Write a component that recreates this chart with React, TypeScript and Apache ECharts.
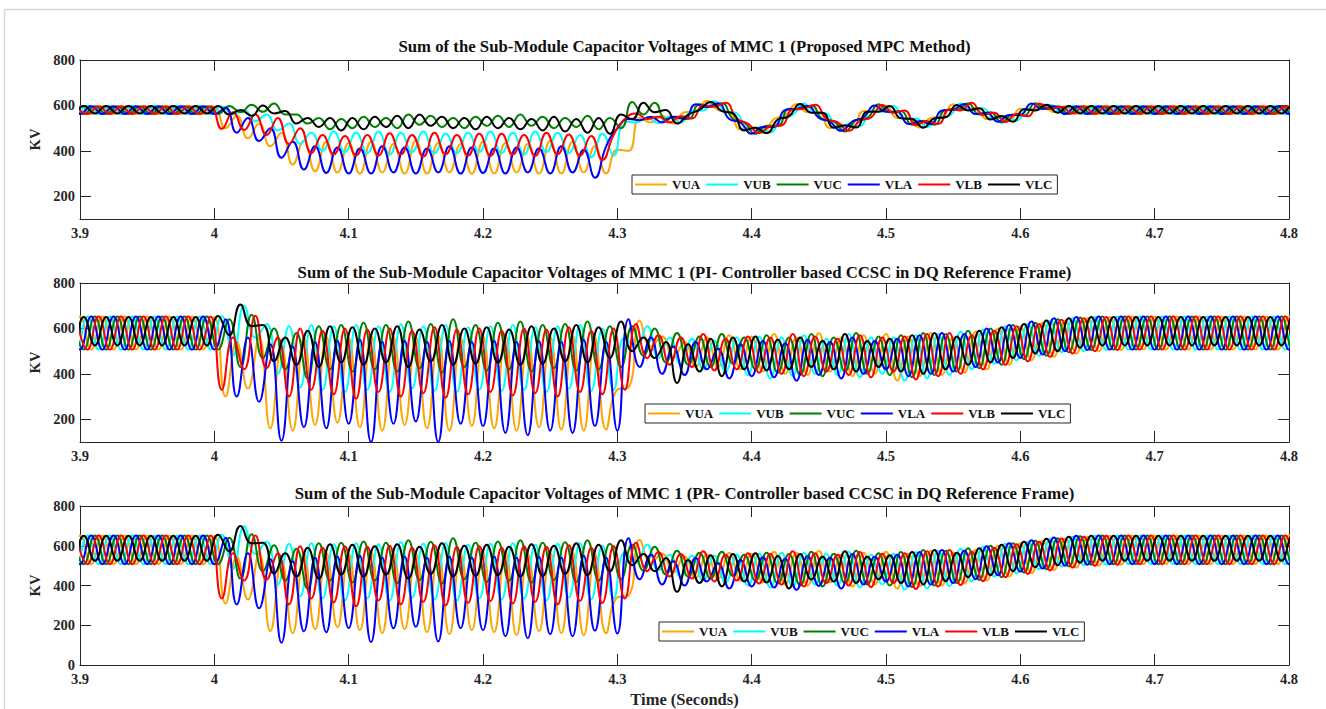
import React, { useEffect, useRef } from "react";
import * as echarts from "echarts";

// Each series is a list of rows of successive extremes (peak, trough, ...),
// one entry per half cycle of the 60 Hz ripple.
// Row 0: lead-in before 3.9 s; rows 1-9: 3.9-4.0, 4.0-4.1, ..., 4.7-4.8 s;
// row 10: run-out past 4.8 s.

// ---- MMC 1, proposed MPC method ----
const p1VUA = [
  [596, 562],
  [596, 562, 596, 562, 596, 562,
   596, 562, 596, 562, 596, 562],
  [592, 500, 555, 455, 520, 420, 480, 340, 445, 310, 440, 305],
  [435, 300, 440, 305, 430, 300, 445, 300, 435, 305, 430, 300],
  [440, 300, 435, 305, 430, 300, 445, 300, 440, 305, 420, 300],
  [405, 400, 545, 525, 555, 520, 570, 575, 620, 580, 570, 495],
  [505, 480, 540, 555, 605, 570, 570, 500, 515, 505, 575, 575],
  [600, 545, 545, 503, 545, 550, 605, 580, 590, 540, 555, 530],
  [585, 580, 605, 570, 596, 562,
   596, 562, 596, 562, 596, 562],
  [596, 562, 596, 562, 596, 562,
   596, 562, 596, 562, 596, 562],
  [596, 562],
];
const p1VUB = [
  [597, 561],
  [597, 561, 597, 561, 597, 561,
   597, 561, 597, 561, 597, 561],
  [595, 560, 580, 530, 560, 490, 520, 430, 480, 400, 485, 395],
  [480, 390, 485, 385, 480, 395, 485, 390, 475, 390, 480, 395],
  [485, 390, 480, 385, 485, 395, 480, 390, 470, 372, 475, 380],
  [530, 525, 548, 522, 552, 524, 575, 578, 618, 575, 565, 492],
  [503, 482, 545, 558, 608, 568, 565, 498, 518, 508, 578, 572],
  [598, 542, 542, 505, 548, 555, 608, 578, 588, 538, 552, 533],
  [588, 582, 603, 568, 597, 561,
   597, 561, 597, 561, 597, 561],
  [597, 561, 597, 561, 597, 561,
   597, 561, 597, 561, 597, 561],
  [597, 561],
];
const p1VUC = [
  [596, 562],
  [596, 562, 596, 562, 596, 562,
   596, 562, 596, 562, 596, 562],
  [598, 570, 603, 572, 608, 560, 560, 520, 545, 495, 540, 500],
  [550, 505, 545, 500, 560, 515, 555, 505, 545, 500, 550, 510],
  [555, 505, 560, 510, 550, 500, 545, 505, 555, 495, 545, 500],
  [615, 560, 612, 540, 550, 540, 605, 593, 610, 540, 525, 475],
  [510, 510, 585, 583, 600, 540, 530, 485, 535, 545, 605, 570],
  [575, 515, 533, 515, 580, 580, 610, 560, 570, 525, 560, 555],
  [610, 583, 596, 562, 596, 562,
   596, 562, 596, 562, 596, 562],
  [596, 562, 596, 562, 596, 562,
   596, 562, 596, 562, 596, 562],
  [596, 562],
];
const p1VLA = [
  [596, 562],
  [596, 562, 596, 562, 596, 562,
   596, 562, 596, 562, 596, 562],
  [590, 480, 545, 443, 500, 370, 440, 318, 420, 303, 415, 300],
  [410, 300, 420, 305, 415, 300, 410, 305, 420, 300, 415, 303],
  [410, 300, 415, 305, 410, 300, 420, 305, 405, 282, 420, 500],
  [540, 535, 550, 525, 550, 540, 605, 593, 610, 540, 525, 475],
  [505, 505, 580, 585, 598, 545, 528, 488, 530, 548, 600, 572],
  [572, 518, 530, 518, 578, 582, 606, 562, 568, 528, 558, 558],
  [608, 584, 596, 562, 596, 562,
   596, 562, 596, 562, 596, 562],
  [596, 562, 596, 562, 596, 562,
   596, 562, 596, 562, 596, 562],
  [596, 562],
];
const p1VLB = [
  [596, 562],
  [596, 562, 596, 562, 596, 562,
   596, 562, 596, 562, 596, 497],
  [570, 492, 560, 470, 545, 430, 500, 390, 470, 385, 465, 380],
  [470, 380, 478, 385, 470, 375, 480, 385, 470, 380, 475, 378],
  [475, 385, 470, 378, 480, 385, 472, 380, 465, 360, 470, 540],
  [565, 540, 550, 525, 552, 542, 600, 595, 612, 542, 520, 478],
  [508, 512, 582, 586, 603, 542, 526, 488, 532, 547, 602, 568],
  [578, 513, 530, 518, 583, 578, 612, 558, 568, 527, 562, 552],
  [608, 585, 594, 564, 596, 562,
   596, 562, 596, 562, 596, 562],
  [596, 562, 596, 562, 596, 562,
   596, 562, 596, 562, 596, 562],
  [596, 562],
];
const p1VLC = [
  [598, 565],
  [598, 565, 598, 565, 598, 565,
   598, 565, 598, 565, 598, 565],
  [598, 560, 580, 555, 600, 565, 575, 520, 545, 505, 545, 490],
  [545, 495, 550, 505, 555, 500, 560, 510, 550, 500, 545, 495],
  [550, 500, 545, 495, 540, 490, 550, 485, 540, 480, 545, 475],
  [560, 540, 612, 570, 580, 520, 560, 580, 615, 575, 565, 490],
  [502, 478, 538, 552, 606, 568, 568, 502, 512, 503, 572, 572],
  [598, 543, 540, 502, 543, 548, 602, 578, 588, 538, 553, 528],
  [583, 578, 603, 568, 598, 565,
   598, 565, 598, 565, 598, 565],
  [598, 565, 598, 565, 598, 565,
   598, 565, 598, 565, 598, 565],
  [598, 565],
];

// ---- MMC 1, PI controller based CCSC in DQ frame ----
const p2VUA = [
  [652, 507],
  [652, 507, 652, 507, 652, 507,
   652, 507, 652, 507, 652, 507],
  [650, 300, 540, 335, 560, 160, 520, 150, 560, 175, 565, 185],
  [560, 165, 570, 150, 565, 175, 560, 160, 570, 150, 560, 170],
  [565, 160, 570, 150, 560, 165, 565, 155, 570, 150, 560, 155],
  [330, 340, 635, 520, 565, 470, 540, 430, 560, 430, 570, 420],
  [565, 410, 575, 400, 560, 395, 580, 410, 560, 390, 570, 400],
  [575, 370, 565, 390, 580, 395, 560, 405, 585, 420, 600, 440],
  [610, 460, 625, 475, 635, 490,
   645, 500, 650, 505, 652, 507],
  [652, 507, 652, 507, 652, 507,
   652, 507, 652, 507, 652, 507],
  [652, 507],
];
const p2VUB = [
  [652, 507],
  [652, 507, 652, 507, 652, 507,
   652, 507, 652, 507, 652, 507],
  [655, 480, 700, 560, 620, 400, 610, 340, 615, 330, 610, 320],
  [615, 330, 610, 320, 620, 335, 610, 325, 615, 320, 605, 330],
  [610, 325, 615, 330, 605, 320, 610, 335, 615, 325, 600, 330],
  [560, 520, 610, 470, 560, 440, 555, 420, 545, 410, 560, 395],
  [565, 380, 560, 390, 570, 400, 555, 395, 575, 385, 560, 400],
  [560, 370, 570, 380, 575, 395, 585, 420, 595, 445, 610, 460],
  [620, 480, 635, 495, 645, 500,
   650, 505, 652, 507, 652, 507],
  [652, 507, 652, 507, 652, 507,
   652, 507, 652, 507, 652, 507],
  [652, 507],
];
const p2VUC = [
  [652, 507],
  [652, 507, 652, 507, 652, 507,
   652, 507, 652, 507, 652, 507],
  [640, 430, 660, 470, 600, 420, 580, 380, 610, 420, 615, 410],
  [625, 420, 615, 410, 630, 425, 620, 405, 640, 430, 615, 415],
  [625, 420, 630, 410, 615, 425, 620, 415, 630, 420, 610, 430],
  [610, 480, 600, 450, 580, 440, 565, 430, 575, 445, 560, 420],
  [570, 405, 560, 395, 575, 390, 560, 410, 580, 400, 565, 395],
  [570, 385, 580, 395, 575, 410, 590, 425, 600, 440, 615, 465],
  [625, 480, 640, 495, 648, 505,
   652, 507, 652, 507, 652, 507],
  [652, 507, 652, 507, 652, 507,
   652, 507, 652, 507, 652, 507],
  [652, 507],
];
const p2VLA = [
  [652, 507],
  [652, 507, 652, 507, 652, 507,
   652, 507, 652, 507, 652, 507],
  [640, 300, 560, 277, 530, 105, 520, 165, 540, 160, 545, 180],
  [550, 100, 540, 180, 545, 190, 540, 100, 545, 180, 540, 170],
  [545, 140, 540, 130, 545, 150, 540, 140, 550, 170, 540, 150],
  [640, 430, 560, 400, 520, 395, 540, 420, 510, 380, 530, 390],
  [545, 385, 535, 370, 550, 395, 540, 380, 560, 400, 545, 420],
  [555, 390, 570, 400, 580, 410, 575, 430, 600, 450, 615, 470],
  [630, 485, 645, 500, 650, 505,
   652, 507, 652, 507, 652, 507],
  [652, 507, 652, 507, 652, 507,
   652, 507, 652, 507, 652, 507],
  [652, 507],
];
const p2VLB = [
  [652, 507],
  [652, 507, 652, 507, 652, 507,
   652, 507, 652, 507, 652, 330],
  [560, 420, 656, 425, 560, 300, 600, 330, 590, 310, 600, 290],
  [595, 320, 600, 300, 590, 315, 605, 295, 595, 310, 600, 320],
  [590, 305, 600, 315, 595, 300, 605, 320, 590, 310, 600, 330],
  [620, 470, 570, 440, 560, 430, 575, 415, 555, 420, 565, 405],
  [560, 400, 575, 390, 565, 410, 555, 395, 570, 385, 560, 410],
  [565, 375, 575, 390, 580, 400, 570, 420, 590, 440, 610, 455],
  [620, 475, 638, 490, 645, 500,
   650, 505, 652, 507, 652, 507],
  [652, 507, 652, 507, 652, 507,
   652, 507, 652, 507, 652, 507],
  [652, 507],
];
const p2VLC = [
  [650, 525],
  [650, 525, 650, 525, 650, 525,
   650, 525, 650, 525, 650, 525],
  [655, 570, 705, 610, 615, 455, 560, 440, 590, 430, 610, 450],
  [605, 440, 600, 450, 610, 430, 595, 455, 615, 440, 600, 445],
  [605, 450, 595, 440, 610, 445, 600, 455, 615, 450, 605, 470],
  [630, 500, 560, 470, 540, 360, 530, 410, 555, 390, 560, 420],
  [565, 415, 550, 420, 560, 430, 545, 420, 575, 410, 545, 430],
  [555, 410, 570, 400, 580, 420, 565, 440, 590, 450, 605, 470],
  [620, 490, 635, 500, 645, 515,
   650, 525, 650, 525, 650, 525],
  [650, 525, 650, 525, 650, 525,
   650, 525, 650, 525, 650, 525],
  [650, 525],
];

// ---- MMC 1, PR controller based CCSC in DQ frame ----
const p3VUA = [
  [652, 507],
  [652, 507, 652, 507, 652, 507,
   652, 507, 652, 507, 652, 507],
  [650, 310, 545, 330, 560, 170, 525, 160, 560, 180, 565, 190],
  [560, 175, 570, 160, 565, 180, 560, 165, 570, 155, 560, 175],
  [565, 165, 570, 150, 560, 170, 565, 160, 570, 150, 560, 160],
  [340, 350, 630, 515, 560, 465, 545, 440, 555, 435, 565, 425],
  [560, 415, 570, 405, 565, 400, 575, 415, 555, 395, 565, 405],
  [570, 385, 560, 395, 575, 400, 565, 410, 580, 425, 600, 445],
  [612, 462, 625, 478, 637, 490,
   645, 500, 650, 505, 652, 507],
  [652, 507, 652, 507, 652, 507,
   652, 507, 652, 507, 652, 507],
  [652, 507],
];
const p3VUB = [
  [652, 507],
  [652, 507, 652, 507, 652, 507,
   652, 507, 652, 507, 652, 507],
  [655, 485, 698, 560, 622, 405, 610, 345, 612, 335, 608, 325],
  [612, 335, 608, 325, 618, 340, 610, 330, 612, 325, 605, 335],
  [610, 330, 612, 335, 605, 325, 610, 340, 612, 330, 600, 335],
  [565, 515, 605, 475, 555, 445, 550, 425, 550, 415, 555, 400],
  [560, 390, 565, 395, 565, 405, 560, 400, 570, 390, 555, 405],
  [560, 380, 568, 385, 575, 398, 585, 420, 595, 445, 610, 462],
  [620, 482, 635, 495, 645, 502,
   650, 505, 652, 507, 652, 507],
  [652, 507, 652, 507, 652, 507,
   652, 507, 652, 507, 652, 507],
  [652, 507],
];
const p3VUC = [
  [652, 507],
  [652, 507, 652, 507, 652, 507,
   652, 507, 652, 507, 652, 507],
  [640, 435, 658, 472, 602, 425, 585, 385, 612, 425, 615, 415],
  [622, 425, 615, 412, 628, 428, 620, 410, 638, 432, 615, 418],
  [622, 425, 628, 415, 615, 428, 618, 418, 628, 425, 610, 432],
  [605, 475, 595, 455, 575, 445, 565, 435, 570, 448, 555, 425],
  [565, 410, 558, 400, 570, 395, 560, 412, 575, 405, 562, 400],
  [568, 392, 578, 400, 575, 412, 588, 428, 600, 442, 612, 465],
  [625, 482, 638, 496, 648, 505,
   652, 507, 652, 507, 652, 507],
  [652, 507, 652, 507, 652, 507,
   652, 507, 652, 507, 652, 507],
  [652, 507],
];
const p3VLA = [
  [652, 507],
  [652, 507, 652, 507, 652, 507,
   652, 507, 652, 507, 652, 507],
  [640, 305, 562, 285, 532, 112, 522, 170, 540, 165, 545, 185],
  [550, 115, 540, 185, 545, 192, 540, 118, 545, 185, 540, 175],
  [545, 145, 540, 135, 545, 155, 540, 145, 550, 172, 540, 158],
  [638, 432, 555, 405, 522, 400, 538, 420, 512, 385, 528, 395],
  [542, 390, 535, 378, 548, 398, 540, 385, 558, 405, 545, 420],
  [555, 395, 568, 405, 578, 412, 575, 432, 598, 452, 612, 470],
  [628, 485, 642, 500, 650, 505,
   652, 507, 652, 507, 652, 507],
  [652, 507, 652, 507, 652, 507,
   652, 507, 652, 507, 652, 507],
  [652, 507],
];
const p3VLB = [
  [652, 507],
  [652, 507, 652, 507, 652, 507,
   652, 507, 652, 507, 652, 335],
  [562, 425, 652, 430, 562, 305, 598, 335, 590, 315, 598, 295],
  [595, 325, 600, 305, 590, 318, 602, 300, 595, 312, 598, 322],
  [590, 310, 598, 318, 595, 305, 602, 322, 590, 312, 598, 335],
  [615, 472, 568, 445, 558, 435, 572, 420, 555, 425, 562, 410],
  [558, 405, 572, 395, 562, 412, 555, 400, 568, 392, 560, 412],
  [562, 382, 572, 395, 578, 402, 570, 422, 590, 442, 608, 458],
  [620, 476, 636, 490, 645, 500,
   650, 505, 652, 507, 652, 507],
  [652, 507, 652, 507, 652, 507,
   652, 507, 652, 507, 652, 507],
  [652, 507],
];
const p3VLC = [
  [650, 525],
  [650, 525, 650, 525, 650, 525,
   650, 525, 650, 525, 650, 525],
  [655, 572, 700, 612, 615, 460, 562, 445, 590, 435, 608, 455],
  [605, 445, 598, 455, 608, 435, 595, 458, 612, 445, 600, 448],
  [605, 452, 595, 445, 608, 448, 600, 458, 612, 452, 605, 472],
  [628, 502, 558, 472, 538, 368, 528, 412, 552, 395, 558, 420],
  [562, 415, 548, 385, 558, 430, 545, 420, 572, 412, 545, 432],
  [552, 412, 568, 405, 578, 422, 565, 442, 588, 452, 605, 472],
  [620, 492, 635, 502, 645, 515,
   650, 525, 650, 525, 650, 525],
  [650, 525, 650, 525, 650, 525,
   650, 525, 650, 525, 650, 525],
  [650, 525],
];

const SERIES_NAMES = ["VUA", "VUB", "VUC", "VLA", "VLB", "VLC"];
const PANEL_TITLES = [
  "Sum of the Sub-Module Capacitor Voltages of MMC 1 (Proposed MPC Method)",
  "Sum of the Sub-Module Capacitor Voltages of MMC 1 (PI- Controller based CCSC in DQ Reference Frame)",
  "Sum of the Sub-Module Capacitor Voltages of MMC 1 (PR- Controller based CCSC in DQ Reference Frame)",
];
const PANEL_DATA = [
  [p1VUA, p1VUB, p1VUC, p1VLA, p1VLB, p1VLC],
  [p2VUA, p2VUB, p2VUC, p2VLA, p2VLB, p2VLC],
  [p3VUA, p3VUB, p3VUC, p3VLA, p3VLB, p3VLC],
];
const Y_MIN = [100, 100, 0];
const Y_TICKS = [
  [200, 400, 600, 800],
  [200, 400, 600, 800],
  [0, 200, 400, 600, 800],
];
const X_MIN = 3.9;
const X_MAX = 4.8;
const ROW_SPAN = 0.1; // seconds covered by each data row

// presentation
const COLORS = ["#FFA500", "#00FFFF", "#008000", "#0000FF", "#FF0000", "#000000"];
const PERIOD = 1 / 60;
// ripple phase of each arm: phases 120 degrees apart, lower arm opposite upper
const PHASE = [0, PERIOD / 3, (2 * PERIOD) / 3, PERIOD / 2, (5 * PERIOD) / 6, PERIOD / 6];
const FONT = '"Liberation Serif", "Times New Roman", Times, serif';
const INK = "#262626";
const GRID_TOPS = [60, 283, 506];
const GRID_LEFT = 80;
const GRID_W = 1209;
const GRID_H = 159;
const TITLE_Y = [46, 272, 493];
const LEGEND_POS = [
  [632, 175],
  [645, 404],
  [659, 622],
];

// time stamps for the extremes: each row starts at its own segment boundary
function toPoints(rows: number[][], phase: number) {
  const pts: number[][] = [];
  rows.forEach((row, r) => {
    const start = r === 0 ? X_MIN + phase - PERIOD : X_MIN + phase + (r - 1) * ROW_SPAN;
    row.forEach((v, j) => pts.push([start + (j * PERIOD) / 2, v]));
  });
  return pts;
}

function buildOption() {
  const grid = GRID_TOPS.map((top) => ({
    left: GRID_LEFT,
    top,
    width: GRID_W,
    height: GRID_H,
    containLabel: false,
  }));

  const lineStyle = { color: INK, width: 1 };
  const labelStyle = {
    fontFamily: FONT,
    fontWeight: "bold" as const,
    fontSize: 14.5,
    lineHeight: 14,
    color: INK,
  };

  const xAxis: any[] = [];
  const yAxis: any[] = [];
  GRID_TOPS.forEach((_, p) => {
    const base = {
      type: "value",
      gridIndex: p,
      min: X_MIN,
      max: X_MAX,
      interval: 0.1,
      splitLine: { show: false },
      axisLine: { show: true, onZero: false, lineStyle },
      axisTick: { show: true, inside: true, length: 11, lineStyle },
    };
    xAxis.push({
      ...base,
      position: "bottom",
      axisLabel: {
        ...labelStyle,
        margin: 7,
        formatter: (v: number) => String(Math.round(v * 10) / 10),
      },
      ...(p === 2
        ? {
            name: "Time (Seconds)",
            nameLocation: "middle",
            nameGap: 26,
            nameTextStyle: { ...labelStyle, fontSize: 16.5, lineHeight: 16 },
          }
        : {}),
    });
    xAxis.push({ ...base, position: "top", axisLabel: { show: false } });

    const yBase = {
      type: "value",
      gridIndex: p,
      min: Y_MIN[p],
      max: 800,
      splitLine: { show: false },
      axisLine: { show: true, onZero: false, lineStyle },
      axisTick: {
        show: true,
        inside: true,
        length: 11,
        lineStyle,
        customValues: Y_TICKS[p],
      },
    };
    yAxis.push({
      ...yBase,
      position: "left",
      name: "KV",
      nameLocation: "middle",
      nameGap: 33,
      nameTextStyle: { ...labelStyle },
      axisLabel: { ...labelStyle, margin: 5, customValues: Y_TICKS[p] },
    });
    yAxis.push({ ...yBase, position: "right", axisLabel: { show: false } });
  });

  const series: any[] = [];
  PANEL_DATA.forEach((panel, p) => {
    panel.forEach((rows, k) => {
      series.push({
        type: "line",
        name: SERIES_NAMES[k],
        xAxisIndex: 2 * p,
        yAxisIndex: 2 * p,
        data: toPoints(rows, PHASE[k]),
        smooth: true,
        symbol: "none",
        showSymbol: false,
        clip: true,
        lineStyle: { color: COLORS[k], width: 2 },
        itemStyle: { color: COLORS[k] },
        emphasis: { disabled: true },
        silent: true,
      });
    });
  });

  const legend = LEGEND_POS.map(([left, top]) => ({
    data: SERIES_NAMES,
    left,
    top,
    orient: "horizontal",
    icon: "rect",
    itemWidth: 32,
    itemHeight: 2,
    itemGap: 6,
    padding: [3, 5, 3, 3],
    borderColor: INK,
    borderWidth: 1,
    backgroundColor: "#ffffff",
    selectedMode: false,
    textStyle: {
      fontFamily: FONT,
      fontWeight: "bold",
      fontSize: 13,
      lineHeight: 13,
      color: "#111111",
    },
  }));

  const graphic: any[] = [
    {
      type: "rect",
      silent: true,
      shape: { x: 4.5, y: 9.5, width: 1340, height: 720 },
      style: { fill: "none", stroke: "#d6d6d6", lineWidth: 1.5 },
      z: -10,
    },
    ...PANEL_TITLES.map((text, p) => ({
      type: "text",
      silent: true,
      x: GRID_LEFT + GRID_W / 2,
      y: TITLE_Y[p],
      style: {
        text,
        fill: "#111111",
        font: `bold 16.75px ${FONT}`,
        align: "center",
        verticalAlign: "middle",
        textAlign: "center",
        textVerticalAlign: "middle",
      },
    })),
  ];

  return {
    animation: false,
    backgroundColor: "#ffffff",
    grid,
    xAxis,
    yAxis,
    series,
    legend,
    graphic,
  };
}

export default function App() {
  const ref = useRef<HTMLDivElement>(null);
  useEffect(() => {
    if (!ref.current) return;
    const chart = echarts.init(ref.current, undefined, { renderer: "svg" });
    chart.setOption(buildOption() as any);
    return () => chart.dispose();
  }, []);
  return (
    <div
      ref={ref}
      style={{ position: "fixed", left: 0, top: 0, width: 1326, height: 709, background: "#fff" }}
    />
  );
}
